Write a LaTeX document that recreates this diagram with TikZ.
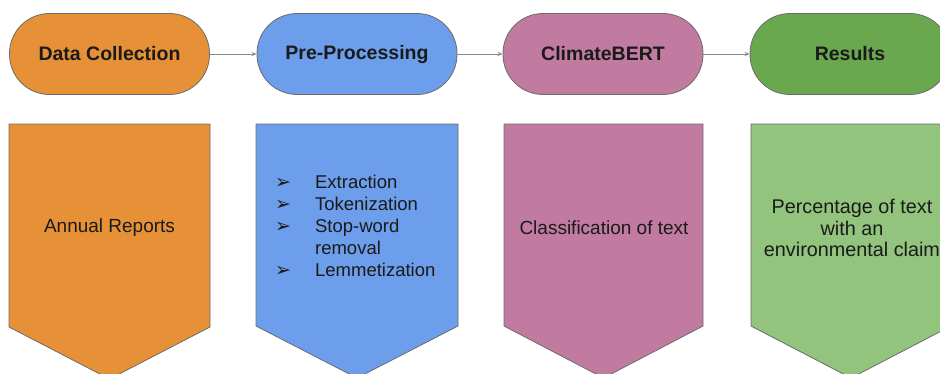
\documentclass[tikz,border=0pt]{standalone}
\usepackage{fontspec}
\setmainfont{Liberation Sans}
\newfontfamily\dejavu{DejaVu Sans}
\usetikzlibrary{arrows.meta}
\definecolor{cOrange}{HTML}{E69138}
\definecolor{cBlue}{HTML}{6D9EEB}
\definecolor{cPink}{HTML}{C27BA0}
\definecolor{cGreenD}{HTML}{6AA84F}
\definecolor{cGreenL}{HTML}{93C47D}
\definecolor{cEdge}{HTML}{6B6B6B}
\definecolor{cText}{HTML}{1A1A1A}
\tikzset{
  pill/.style={draw=cEdge, line width=0.8pt, rectangle, rounded corners=40pt,
    minimum width=200pt, minimum height=81pt, inner sep=0pt,
    font=\fontsize{19.5}{23}\selectfont\bfseries, text=cText},
  flow/.style={draw=cEdge!80, line width=0.8pt, -{Stealth[length=5pt,width=4pt]}},
  pent/.style={draw=cEdge, line width=0.8pt},
  body/.style={font=\fontsize{19}{21.5}\selectfont, text=cText, align=center, inner sep=0pt}
}
\newcommand{\arrbul}{{\dejavu\fontsize{19}{22}\selectfont ➢}}
\begin{document}
\begin{tikzpicture}[x=1pt,y=-1pt]
\useasboundingbox (0,0) rectangle (940,373);
\clip (0,0) rectangle (940,373);
% top pills
\node[pill, fill=cOrange] (dc) at (109.5,54) {Data Collection};
\node[pill, fill=cBlue] (pp) at (357,54) {Pre-Processing};
\node[pill, fill=cPink] (cb) at (603,54) {ClimateBERT};
\node[pill, fill=cGreenD] (rs) at (850,54) {Results};
\draw[flow] (dc.east) -- (pp.west);
\draw[flow] (pp.east) -- (cb.west);
\draw[flow] (cb.east) -- (rs.west);
% pentagons
\draw[pent, fill=cOrange] (9,124) -- (210,124) -- (210,327) -- (109.5,379) -- (9,327) -- cycle;
\draw[pent, fill=cBlue] (256,124) -- (458,124) -- (458,326) -- (357,378) -- (256,326) -- cycle;
\draw[pent, fill=cPink] (504,124) -- (703,124) -- (703,326) -- (603.5,378) -- (504,326) -- cycle;
\draw[pent, fill=cGreenL] (751,124) -- (951,124) -- (951,326) -- (851,378) -- (751,326) -- cycle;
% texts
\node[body] (ar) at (109.5,228) {Annual Reports};
\node[body, anchor=west, align=left] (pl) at (275,228) {\fontsize{18.5}{22}\selectfont
  \begin{tabular}{@{}l@{\hspace{24pt}}l@{}}
  \arrbul & Extraction\\
  \arrbul & Tokenization\\
  \arrbul & Stop-word\\
   & removal\\
  \arrbul & Lemmetization
  \end{tabular}};
\node[body] (ct) at (604,228) {Classification of text};
\node[body, font=\fontsize{19.8}{21.5}\selectfont] (pt) at (852,228) {Percentage of text\\with an\\environmental claim};
\end{tikzpicture}
\end{document}
